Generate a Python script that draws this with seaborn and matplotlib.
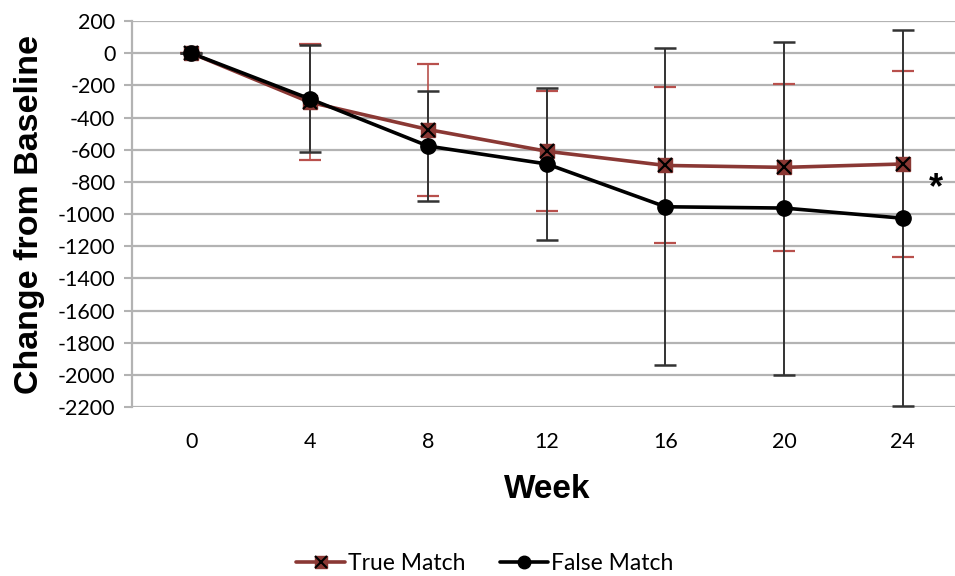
import matplotlib
matplotlib.use("Agg")
import matplotlib.pyplot as plt
from matplotlib.lines import Line2D
from matplotlib.legend_handler import HandlerTuple
import numpy as np
import pandas as pd
import seaborn as sns

# Data: mean change from baseline and SD at each week
weeks = [0, 4, 8, 12, 16, 20, 24]
true_mean = [0, -305, -475, -610, -698, -710, -689]
true_sd = [0, 360, 410, 374, 485, 520, 577]
false_mean = [0, -284, -578, -689, -955, -963, -1026]
false_sd = [0, 333, 343, 470, 985, 1035, 1170]
y_ticks = list(range(-2200, 201, 200))

sns.set_theme(style="white")
plt.rcParams["font.family"] = ["Lato", "DejaVu Sans"]

true_line = "#8a3834"
true_err = "#b8504c"
black = "#000000"
grid_c = "#b3b3b3"

pos = np.arange(len(weeks))
df = pd.DataFrame({
    "pos": np.concatenate([pos, pos]),
    "value": true_mean + false_mean,
    "group": ["True Match"] * len(weeks) + ["False Match"] * len(weeks),
})

fig = plt.figure(figsize=(9.55, 5.76), dpi=100)
ax = fig.add_axes([0.1382, 0.2934, 0.869, 0.6701])

for yv in y_ticks:
    ax.axhline(yv, color=grid_c, lw=1.6, zorder=0)

# error bars
ax.errorbar(pos, true_mean, yerr=true_sd, fmt="none", ecolor=true_err,
            elinewidth=1.2, capsize=8, capthick=1.6, zorder=2)
ax.errorbar(pos, false_mean, yerr=false_sd, fmt="none", ecolor="#333333",
            elinewidth=1.4, capsize=8, capthick=1.8, zorder=3)

# lines
sns.lineplot(data=df[df.group == "True Match"], x="pos", y="value", ax=ax,
             color=true_line, lw=2.6, zorder=4, legend=False)
sns.lineplot(data=df[df.group == "False Match"], x="pos", y="value", ax=ax,
             color=black, lw=2.6, zorder=5, legend=False)

# markers
ax.plot(pos, true_mean, ls="none", marker="s", ms=10, mfc=true_line,
        mec=true_line, zorder=6)
ax.plot(pos, true_mean, ls="none", marker="x", ms=10, mew=1.6, color=black,
        zorder=7)
ax.plot(pos, false_mean, ls="none", marker="o", ms=11, color=black, zorder=8)

ax.text(6.28, -840, "*", fontsize=26, fontweight="bold", ha="center",
        va="center", family=["Liberation Sans"], color="black")

ax.set_xlim(-0.5, 6.5)
ax.set_ylim(-2200, 200)
ax.set_xticks(pos)
ax.set_xticklabels([str(w) for w in weeks])
ax.set_yticks(y_ticks)
ax.set_yticklabels([str(v) for v in y_ticks])
ax.tick_params(axis="y", which="major", length=6, width=1.5, color=grid_c,
               labelsize=15.5, pad=6, left=True, labelcolor="black")
ax.tick_params(axis="x", length=0, labelsize=15.5, pad=18, labelcolor="black")
for s in ["top", "right", "bottom"]:
    ax.spines[s].set_visible(False)
ax.spines["left"].set_color(grid_c)
ax.spines["left"].set_linewidth(1.6)

ax.set_xlabel("Week", fontsize=24, fontweight="bold", color="black",
              family=["Liberation Sans"], labelpad=16)
ax.set_ylabel("Change from Baseline", fontsize=24.5, fontweight="bold",
              color="black", family=["Liberation Sans"], labelpad=9)

h_true = (Line2D([], [], color=true_line, lw=2.6, marker="s", ms=9,
                 mfc=true_line, mec=true_line),
          Line2D([], [], ls="none", marker="x", ms=9, mew=1.5, color=black))
h_false = Line2D([], [], color=black, lw=2.6, marker="o", ms=9)
leg = fig.legend([h_true, h_false], ["True Match", "False Match"],
                 handler_map={tuple: HandlerTuple(ndivide=1, pad=0)},
                 loc="center", bbox_to_anchor=(0.508, 0.022), ncol=2,
                 frameon=False, fontsize=16.5, handlelength=2.1,
                 handletextpad=0.15, columnspacing=1.5)
for t in leg.get_texts():
    t.set_color("black")

fig.savefig("out.png", dpi=100)
